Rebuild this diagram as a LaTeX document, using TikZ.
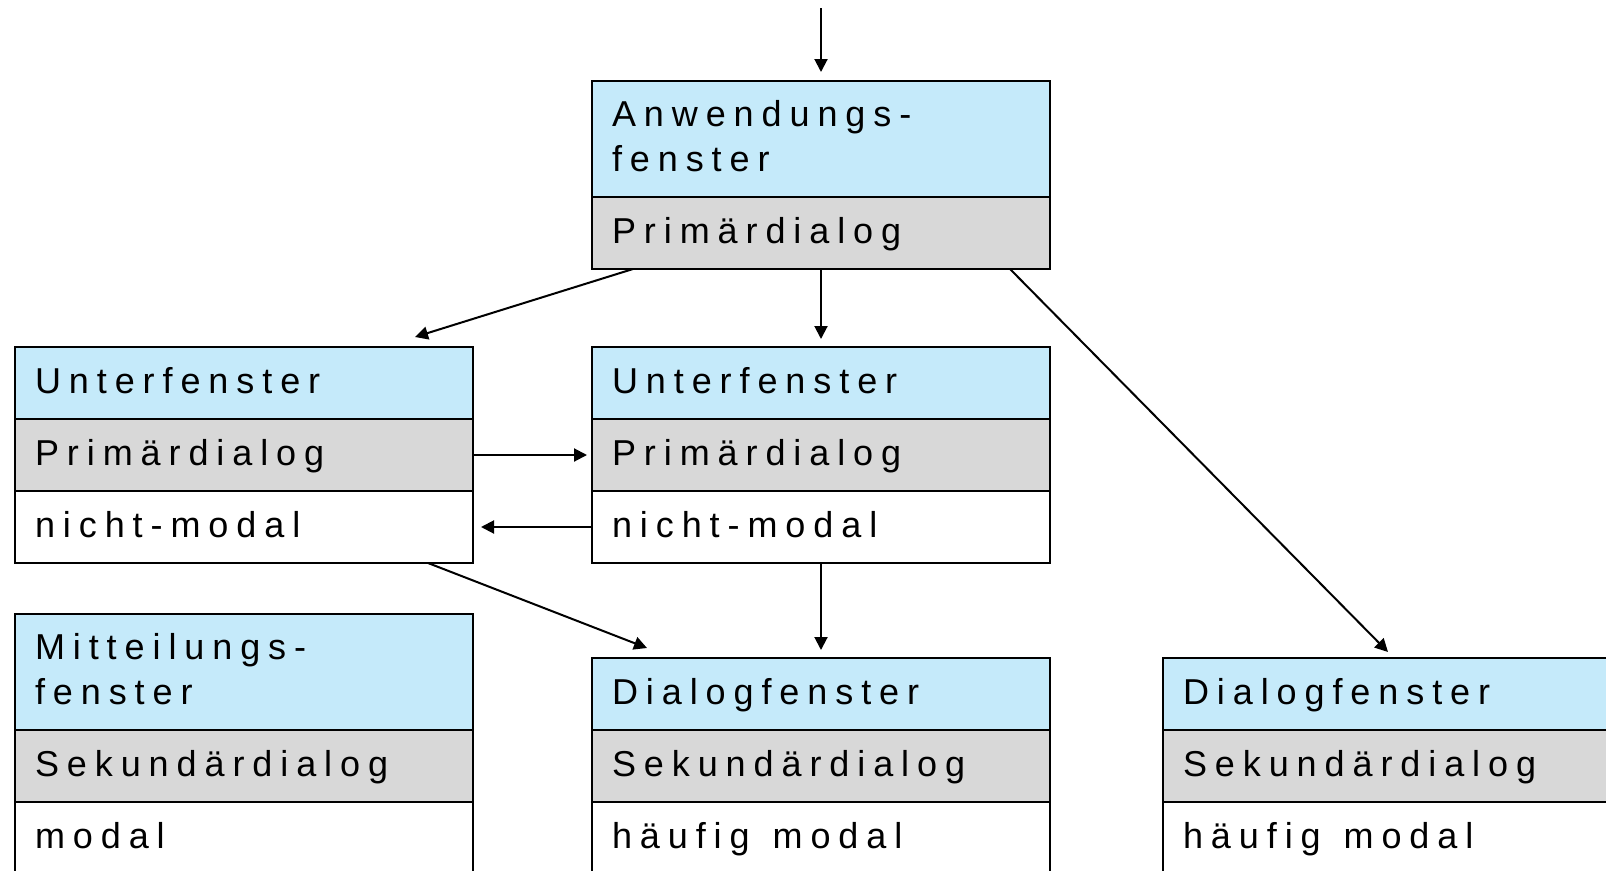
\documentclass[tikz,border=0pt]{standalone}
\usepackage{fontspec}
\usetikzlibrary{arrows.meta}
\newfontfamily\lblfont[LetterSpace=22]{Liberation Sans}
% wider gap between words of the tracked labels
\newcommand{\wordgap}{\hspace{11pt}}
\definecolor{headblue}{RGB}{197,234,250}
\definecolor{kindgray}{RGB}{216,216,216}
\tikzset{
  row/.style={draw=black, line width=2.4pt, outer sep=0pt,
    minimum width=458pt, anchor=north west,
    inner xsep=20pt, inner ysep=0pt, text width=418pt, align=left,
    font={\lblfont\fontsize{36pt}{45pt}\selectfont},
    text height=26pt, text depth=6pt},
  one/.style={minimum height=72pt},
  two/.style={minimum height=116pt, text depth=51pt},
  head/.style={fill=headblue},
  kind/.style={fill=kindgray},
  mode/.style={fill=white},
  arr/.style={line width=2pt, -{Triangle[length=13pt,width=13pt]}}
}
\begin{document}
\begin{tikzpicture}[x=1pt,y=-1pt]
\useasboundingbox (0,0) rectangle (1606,870);
\clip (0,0) rectangle (1606,870);

% application window
\node[row,two,head] (A1) at (592,81) {Anwendungs-\\fenster};
\node[row,one,kind] (A2) at (A1.south west) {Primärdialog};

% child windows
\node[row,one,head] (U1) at (15,347) {Unterfenster};
\node[row,one,kind] (U2) at (U1.south west) {Primärdialog};
\node[row,one,mode] (U3) at (U2.south west) {nicht-modal};

\node[row,one,head] (V1) at (592,347) {Unterfenster};
\node[row,one,kind] (V2) at (V1.south west) {Primärdialog};
\node[row,one,mode] (V3) at (V2.south west) {nicht-modal};

% message window
\node[row,two,head] (M1) at (15,614) {Mitteilungs-\\fenster};
\node[row,one,kind] (M2) at (M1.south west) {Sekundärdialog};
\node[row,one,mode] (M3) at (M2.south west) {modal};

% dialog windows
\node[row,one,head] (D1) at (592,658) {Dialogfenster};
\node[row,one,kind] (D2) at (D1.south west) {Sekundärdialog};
\node[row,one,mode] (D3) at (D2.south west) {häufig \wordgap modal};

\node[row,one,head] (E1) at (1163,658) {Dialogfenster};
\node[row,one,kind] (E2) at (E1.south west) {Sekundärdialog};
\node[row,one,mode] (E3) at (E2.south west) {häufig \wordgap modal};

% connectors
\coordinate (start) at ([yshift=73pt]A1.north);
\draw[arr] (start) -- ([yshift=9pt]A1.north);
\draw[arr] ([xshift=41pt]A2.south west) -- ([xshift=400pt,yshift=10pt]U1.north west);
\draw[arr] (A2.south) -- ([yshift=8pt]V1.north);
\draw[arr] ([xshift=-40pt]A2.south east) -- ([xshift=225pt,yshift=6pt]E1.north west);
\draw[arr] (U2.east) -- ([xshift=-5pt]V2.west);
\draw[arr] (V3.west) -- ([xshift=8pt]U3.east);
\draw[arr] ([xshift=-45pt]U3.south east) -- ([xshift=55pt,yshift=10pt]D1.north west);
\draw[arr] (V3.south) -- ([yshift=8pt]D1.north);
\end{tikzpicture}
\end{document}
